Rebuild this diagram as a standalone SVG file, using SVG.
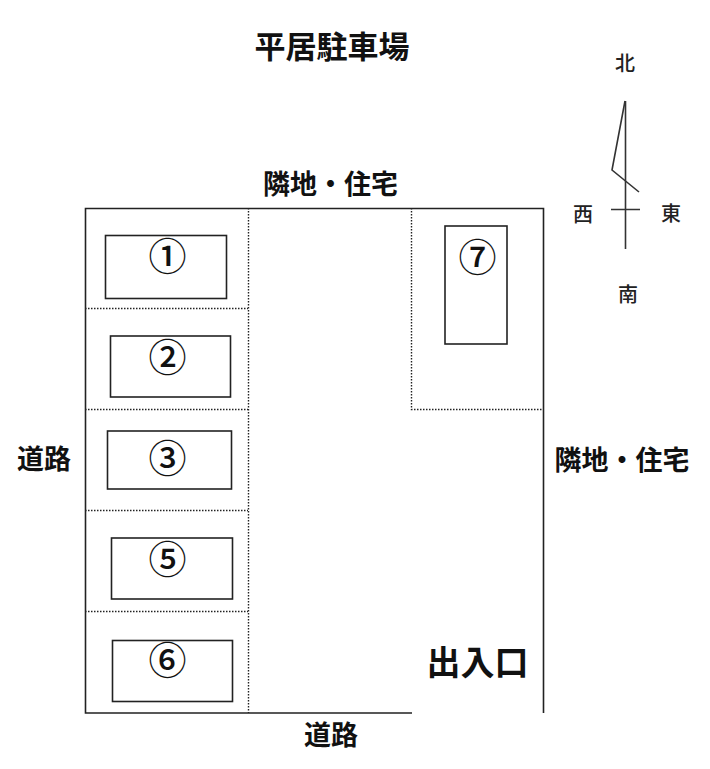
<svg xmlns="http://www.w3.org/2000/svg" width="710" height="769" viewBox="0 0 710 769">
<style>
text{font-family:"Noto Sans CJK JP","Noto Sans",sans-serif;fill:#111}
.b{font-weight:700;text-anchor:middle}
.lbl{font-size:27px}
.n{font-size:38px;text-anchor:middle;font-weight:500}
.d{font-size:20px;text-anchor:middle;font-weight:500;fill:#222}
.line{stroke:#222;stroke-width:1.6;fill:none}
.dot{stroke:#222;stroke-width:1.4;fill:none;stroke-dasharray:1.5 1.5}
.box{stroke:#222;stroke-width:1.6;fill:#fff}
.c{stroke:#333;stroke-width:1.6;fill:none}
</style>
<rect width="710" height="769" fill="#fff"/>
<g id="connectors">
<path class="line" d="M543.500 713V208.500H85.500V713H412"/>
<path class="dot" d="M248.500 208V713M85 308.500H248M85 409.500H248M85 510.500H248M85 611.500H248M411.500 208V409.500H543"/>
</g>
<g id="compass">
<path class="c" d="M625.500 101V249M611 209.500H640"/>
<path class="c" d="M625 101L612 170L639 192"/>
<text class="d" x="625" y="71">北</text><text class="d" x="583" y="222">西</text><text class="d" x="671" y="221">東</text><text class="d" x="628" y="302">南</text>
</g>
<g id="title"><text class="b" x="332" y="58" font-size="31">平居駐車場</text></g>
<g id="label-north"><text class="b lbl" x="330.500" y="194">隣地・住宅</text></g>
<g id="label-east"><text class="b lbl" x="622" y="470">隣地・住宅</text></g>
<g id="label-west"><text class="b lbl" x="44" y="469">道路</text></g>
<g id="label-south"><text class="b lbl" x="331" y="745">道路</text></g>
<g id="entrance"><text class="b" x="477.500" y="675" font-size="34">出入口</text></g>
<g id="space-1"><rect class="box" x="105.500" y="235.500" width="121" height="63"/><text class="n" x="167.500" y="270">①</text></g>
<g id="space-2"><rect class="box" x="110.500" y="336" width="120" height="61"/><text class="n" x="167.500" y="371">②</text></g>
<g id="space-3"><rect class="box" x="107.500" y="431" width="124" height="58"/><text class="n" x="167.500" y="472">③</text></g>
<g id="space-5"><rect class="box" x="111.500" y="538" width="121" height="61"/><text class="n" x="167.500" y="573">⑤</text></g>
<g id="space-6"><rect class="box" x="112.500" y="640.500" width="120" height="61"/><text class="n" x="167.500" y="674">⑥</text></g>
<g id="space-7"><rect class="box" x="445" y="226" width="62" height="118"/><text class="n" x="477.500" y="271">⑦</text></g>
</svg>
